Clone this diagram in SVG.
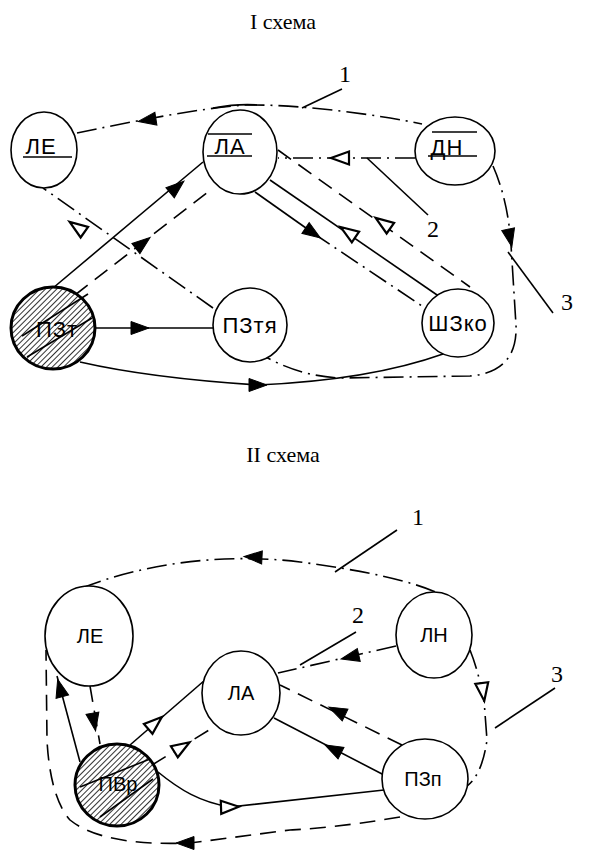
<svg xmlns="http://www.w3.org/2000/svg" xmlns:xlink="http://www.w3.org/1999/xlink" width="599" height="852" viewBox="0 0 599 852">
<style>
.n{fill:#fff;stroke:#000;stroke-width:1.6}
.h{fill:url(#hatch);stroke:#000;stroke-width:3}
.lb{font-family:"Liberation Sans",Arial,sans-serif;font-size:22px;letter-spacing:1px;text-anchor:middle;fill:#000}
.lb2{font-family:"Liberation Sans",Arial,sans-serif;font-size:20px;text-anchor:middle;fill:#000}
.ttl{font-family:"Liberation Serif","Times New Roman",serif;font-size:22px;text-anchor:middle;fill:#000}
.num{font-family:"Liberation Serif","Times New Roman",serif;font-size:24px;text-anchor:middle;fill:#000}
.s{fill:none;stroke:#000;stroke-width:1.6}
.dd{stroke-dasharray:20 6 2 6}
.da{stroke-dasharray:16 9}
.bar{stroke:#000;stroke-width:1.6}
.af{fill:#000;stroke:#000;stroke-width:1}
.ao{fill:#fff;stroke:#000;stroke-width:2.2}
</style>
<defs>
<pattern id="hatch" patternUnits="userSpaceOnUse" width="4" height="4" patternTransform="rotate(45)">
<rect width="4" height="4" fill="#fff"/>
<line x1="0" y1="0" x2="0" y2="4" stroke="#333" stroke-width="2"/>
</pattern>
<path id="ar" d="M9,0 L-9,-6.5 L-9,6.5 Z"/>
</defs>
<text class="ttl" x="283" y="29">I схема</text>
<text class="ttl" x="283" y="462">II схема</text>
<g id="connectors">
<path class="s dd" d="M77,133 C130,122 200,108 245,105 C300,104 380,115 422,124"/>
<path class="s" stroke-width="3" d="M213,108 C230,105 245,104 257,105"/>
<line class="s" x1="302" y1="108" x2="342" y2="89"/>
<path class="s dd" d="M415,158 L278,158"/>
<line class="s" x1="367" y1="158" x2="428" y2="215"/>
<path class="s dd" d="M493,166 Q508,200 511,245 L516,325 Q518,372 470,376 L340,378 Q300,376 266,357"/>
<line class="s" x1="508" y1="252" x2="553" y2="313"/>
<path class="s dd" d="M213,308 L43,188"/>
<line class="s" x1="53" y1="288" x2="203" y2="162"/>
<path class="s da" d="M75,295 L213,188"/>
<line class="s" x1="95" y1="328" x2="213" y2="328"/>
<path class="s" d="M80,362 Q150,378 258,385 Q370,380 443,354"/>
<line class="s" x1="255" y1="192" x2="313" y2="233"/>
<path class="s dd" d="M313,233 L425,308"/>
<line class="s" x1="270" y1="180" x2="440" y2="297"/>
<path class="s da" d="M278,150 L470,287"/>
<use href="#ar" class="af" transform="translate(147,120) rotate(171)"/>
<use href="#ar" class="ao" transform="translate(340,158) rotate(180)"/>
<use href="#ar" class="af" transform="translate(510,238) rotate(78)"/>
<use href="#ar" class="ao" transform="translate(77,227) rotate(215)"/>
<use href="#ar" class="af" transform="translate(177,187) rotate(-40)"/>
<use href="#ar" class="af" transform="translate(143,243) rotate(-38)"/>
<use href="#ar" class="af" transform="translate(140,328) rotate(0)"/>
<use href="#ar" class="af" transform="translate(258,385) rotate(0)"/>
<use href="#ar" class="af" transform="translate(313,233) rotate(34)"/>
<use href="#ar" class="ao" transform="translate(348,232) rotate(214)"/>
<use href="#ar" class="ao" transform="translate(383,223) rotate(215)"/>
<path class="s dd" d="M82,588 C140,565 220,552 300,562 C360,570 410,580 440,594"/>
<line class="s" x1="335" y1="572" x2="397" y2="530"/>
<path class="s dd" d="M396,646 L278,673"/>
<line class="s" x1="300" y1="665" x2="356" y2="632"/>
<path class="s dd" d="M470,650 Q478,670 484,700 L487,740 Q482,775 467,786"/>
<line class="s" x1="495" y1="728" x2="555" y2="688"/>
<path class="s da" d="M402,745 L280,685"/>
<line class="s" x1="384" y1="775" x2="274" y2="718"/>
<line class="s" x1="130" y1="745" x2="205" y2="680"/>
<path class="s da" d="M152,765 L214,727"/>
<line class="s" x1="80" y1="762" x2="57" y2="676"/>
<path class="s da" d="M90,686 L100,744"/>
<path class="s" d="M158,772 C180,790 200,802 230,807 L384,790"/>
<path class="s da" d="M400,817 C370,822 330,828 290,830 L190,843 C140,845 95,840 70,820 C52,800 48,760 47,740 L46,650"/>
<use href="#ar" class="af" transform="translate(253,557) rotate(183)"/>
<use href="#ar" class="af" transform="translate(350,657) rotate(167)"/>
<use href="#ar" class="ao" transform="translate(483,692) rotate(82)"/>
<use href="#ar" class="af" transform="translate(337,711) rotate(206)"/>
<use href="#ar" class="af" transform="translate(333,749) rotate(207)"/>
<use href="#ar" class="ao" transform="translate(155,723) rotate(-41)"/>
<use href="#ar" class="ao" transform="translate(182,747) rotate(-32)"/>
<use href="#ar" class="af" transform="translate(60,688) rotate(-105)"/>
<use href="#ar" class="af" transform="translate(94,722) rotate(80)"/>
<use href="#ar" class="ao" transform="translate(230,807) rotate(-2)"/>
<use href="#ar" class="af" transform="translate(185,843) rotate(180)"/>
</g>
<g id="n1-LE"><ellipse class="n" cx="44" cy="150" rx="33" ry="38"/><text class="lb" x="41" y="154">ЛЕ</text><line class="bar" x1="23" y1="157" x2="72" y2="157"/></g>
<g id="n1-LA"><ellipse class="n" cx="240" cy="152" rx="37" ry="42"/><text class="lb" x="230" y="154">ЛА</text><line class="bar" x1="208" y1="134" x2="252" y2="134"/><line class="bar" x1="207" y1="156" x2="252" y2="156"/></g>
<g id="n1-DN"><ellipse class="n" cx="455" cy="151" rx="40" ry="34"/><text class="lb" x="447" y="155">ДН</text><line class="bar" x1="432" y1="132" x2="477" y2="132"/><line class="bar" x1="428" y1="156" x2="477" y2="156"/></g>
<g id="n1-PZ"><ellipse class="h" cx="53" cy="328" rx="42" ry="41"/><line class="bar" x1="22" y1="336" x2="88" y2="294"/><line class="bar" x1="27" y1="357" x2="92" y2="318"/><text class="lb" x="57" y="337">ПЗт</text></g>
<g id="n1-PZtya"><ellipse class="n" cx="250" cy="325" rx="37" ry="37"/><text class="lb" x="250" y="333">ПЗтя</text></g>
<g id="n1-ShZko"><ellipse class="n" cx="458" cy="323" rx="36" ry="34"/><text class="lb" x="458" y="331">ШЗко</text></g>
<g id="n2-LE"><ellipse class="n" cx="89" cy="636" rx="44" ry="50"/><text class="lb2" x="90" y="643">ЛЕ</text></g>
<g id="n2-LA"><ellipse class="n" cx="241" cy="693" rx="39" ry="42"/><text class="lb2" x="241" y="700">ЛА</text></g>
<g id="n2-LN"><ellipse class="n" cx="434" cy="635" rx="38" ry="43"/><text class="lb2" x="434" y="642">ЛН</text></g>
<g id="n2-PZp"><ellipse class="n" cx="425" cy="779" rx="43" ry="40"/><text class="lb2" x="423" y="786">ПЗп</text></g>
<g id="n2-PVr"><ellipse class="h" cx="117" cy="785" rx="42" ry="41"/><line class="bar" x1="80" y1="787" x2="150" y2="759"/><line class="bar" x1="100" y1="817" x2="153" y2="779"/><text class="lb2" x="118" y="791">ПВр</text></g>
<text class="num" x="345" y="82">1</text>
<text class="num" x="433" y="237">2</text>
<text class="num" x="567" y="310">3</text>
<text class="num" x="418" y="525">1</text>
<text class="num" x="358" y="623">2</text>
<text class="num" x="557" y="682">3</text>
</svg>
